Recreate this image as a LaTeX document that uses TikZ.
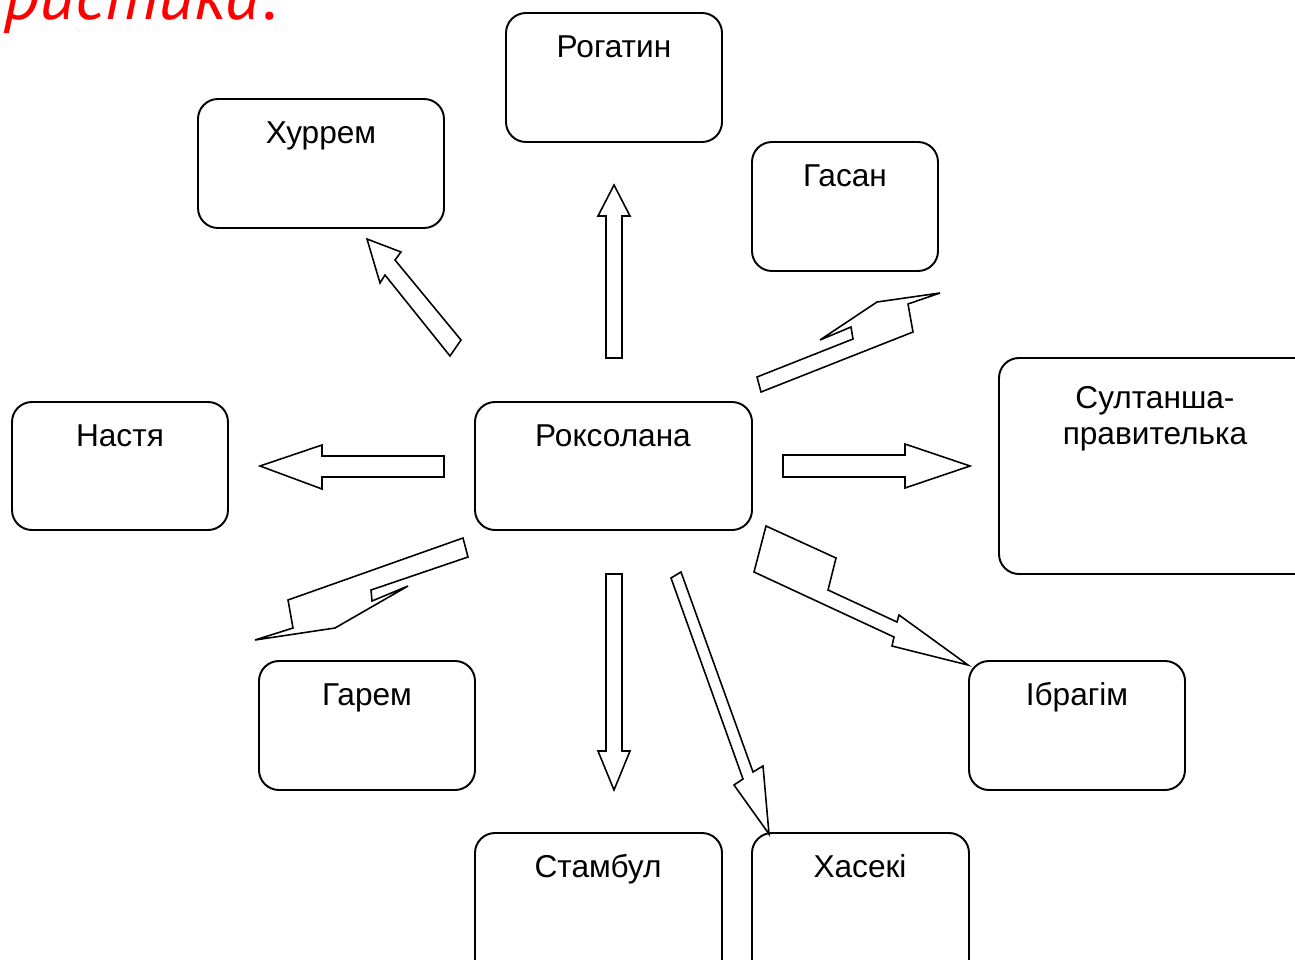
\documentclass[tikz,border=0pt]{standalone}
\usepackage{fontspec}
\setmainfont{Liberation Sans}
\newfontfamily\titlefont{PT Sans}
\begin{document}
\begin{tikzpicture}[x=0.02cm, y=-0.02cm,
    box/.style={draw, line width=1.1pt, rounded corners=0.4cm},
    lbl/.style={anchor=base, align=center, font=\fontsize{18}{20}\selectfont},
    arr/.style={draw, line width=0.9pt, line join=miter, fill=white}]
    \useasboundingbox (0,0) rectangle (1295,960);
    \clip (0,0) rectangle (1295,960);

    % Title (cut off at the top)
    \node[anchor=base east, inner sep=0pt, text=red, font=\titlefont\itshape\fontsize{40}{44}\selectfont] (title) at (279,19) {Характеристика:};

    % Centre
    \draw[box] (475,402) rectangle (752,530);
    \node[lbl] (rox) at (613,446) {Роксолана};

    % Top row
    \draw[box] (506,13) rectangle (722,142);
    \node[lbl] (rog) at (614,57) {Рогатин};
    \draw[box] (198,99) rectangle (444,228);
    \node[lbl] (hur) at (321,143) {Хуррем};
    \draw[box] (752,142) rectangle (938,271);
    \node[lbl] (gas) at (845,186) {Гасан};

    % Middle row
    \draw[box] (12,402) rectangle (228,530);
    \node[lbl] (nas) at (120,446) {Настя};
    \draw[box] (999,358) rectangle (1320,574);
    \node[lbl] (sul) at (1155,444) {Султанша-\\правителька};

    % Bottom rows
    \draw[box] (259,661) rectangle (475,790);
    \node[lbl] (gar) at (367,705) {Гарем};
    \draw[box] (969,661) rectangle (1185,790);
    \node[lbl] (ibr) at (1077,705) {Ібрагім};
    \draw[box] (475,833) rectangle (722,980);
    \node[lbl] (sta) at (598,877) {Стамбул};
    \draw[box] (752,833) rectangle (969,980);
    \node[lbl] (has) at (860,877) {Хасекі};

    % Block arrows
    \draw[arr] (606,358) -- (606,216) -- (598,216) -- (614,185) -- (630,216) -- (622,216) -- (622,358) -- cycle;
    \draw[arr] (444,456) -- (322,456) -- (322,445) -- (260,466) -- (322,489) -- (322,477) -- (444,477) -- cycle;
    \draw[arr] (783,455) -- (905,455) -- (905,444) -- (970,466) -- (905,488) -- (905,477) -- (783,477) -- cycle;
    \draw[arr] (606,574) -- (622,574) -- (622,751) -- (630,751) -- (614,790) -- (598,751) -- (606,751) -- cycle;
    \draw[arr] (450,356) -- (385,275) -- (380,283) -- (367,239) -- (401,252) -- (395,260) -- (461,340) -- cycle;
    \draw[arr] (671,578) -- (681,572) -- (753,772) -- (763,766) -- (769,834) -- (734,785) -- (743,779) -- cycle;
    \draw[arr] (757,377) -- (853,339) -- (851,327) -- (820,340) -- (877,302) -- (940,293) -- (908,304) -- (913,332) -- (761,392) -- cycle;
    \draw[arr] (463,538) -- (468,557) -- (371,590) -- (372,601) -- (408,586) -- (335,628) -- (255,640) -- (293,628) -- (288,600) -- cycle;
    \draw[arr] (766,526) -- (836,558) -- (828,590) -- (897,622) -- (899,615) -- (968,665) -- (892,646) -- (894,637) -- (754,572) -- cycle;
\end{tikzpicture}
\end{document}
